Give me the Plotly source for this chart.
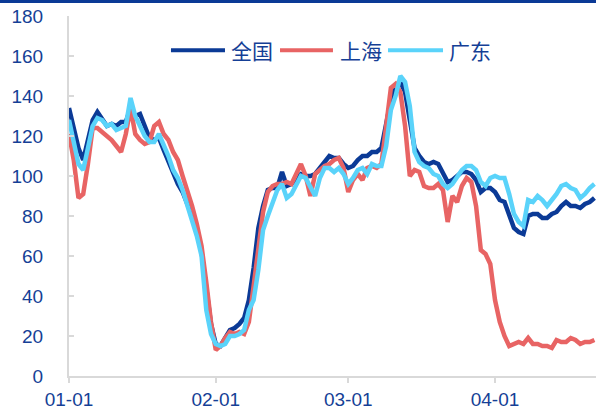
import pandas as pd
import plotly.graph_objects as go

# daily index, 2022-01-01 .. 2022-04-22
dates = pd.date_range("2022-01-01", "2022-04-22", freq="D")

national = [
    134, 124, 114, 108, 118, 128, 132, 128, 125, 126,
    125, 127, 127, 134, 130, 131, 125, 119, 118, 119,
    113, 107, 101, 96, 92, 86, 80, 72, 62, 44,
    26, 16, 15, 19, 23, 24, 26, 29, 38, 54,
    74, 85, 93, 94, 94, 102, 95, 96, 99, 101,
    100, 100, 101, 104, 107, 110, 109, 109, 106, 104,
    105, 108, 110, 110, 112, 112, 114, 127, 138, 145,
    147, 142, 128, 114, 110, 107, 106, 107, 106, 102,
    97, 98, 100, 102, 102, 101, 98, 92, 94, 94,
    92, 88, 87, 81, 74, 72, 71, 80, 81, 81,
    79, 79, 81, 82, 85, 87, 85, 85, 84, 86,
    87, 89,
]
shanghai = [
    121, 108, 89, 91, 106, 124, 124, 122, 120, 118,
    115, 112, 121, 134, 121, 118, 116, 117, 125, 127,
    121, 118, 112, 108, 100, 93, 85, 76, 65, 47,
    27, 13, 15, 19, 22, 21, 22, 21, 27, 45,
    66, 82, 92, 95, 96, 96, 97, 96, 101, 106,
    100, 90, 101, 103, 105, 106, 108, 109, 104, 92,
    98, 101, 98, 104, 105, 104, 106, 125, 144, 146,
    142, 125, 100, 103, 102, 95, 94, 94, 96, 93,
    77, 90, 87, 95, 99, 97, 85, 63, 61, 56,
    38, 27, 20, 15, 16, 17, 16, 19, 16, 16,
    15, 15, 14, 18, 17, 17, 19, 18, 16, 17,
    17, 18,
]
guangdong = [
    128, 116, 106, 103, 114, 125, 129, 128, 125, 126,
    123, 124, 125, 139, 130, 125, 120, 117, 117, 121,
    116, 110, 103, 99, 93, 85, 77, 70, 60, 33,
    21, 16, 15, 16, 20, 20, 21, 23, 33, 38,
    53, 73, 80, 87, 93, 96, 89, 91, 96, 100,
    99, 95, 90, 99, 104, 104, 102, 104, 101, 96,
    99, 103, 104, 101, 106, 105, 105, 115, 133, 140,
    150, 147, 135, 112, 107, 105, 104, 101, 100, 96,
    94, 96, 100, 103, 105, 105, 103, 97, 95, 99,
    100, 99, 99, 91, 81, 77, 75, 88, 87, 90,
    88, 85, 88, 91, 95, 96, 94, 93, 89, 91,
    94, 96,
]

series_names = ["全国", "上海", "广东"]
series_colors = ["#0B3A96", "#E86464", "#5AD3FA"]
tick_dates = ["2022-01-01", "2022-02-01", "2022-03-01", "2022-04-01"]

TEXT = "#153F96"
AXIS = "#D9D9D9"

fig = go.Figure()
for name, vals, color in zip(series_names, [national, shanghai, guangdong], series_colors):
    fig.add_trace(
        go.Scatter(
            x=dates, y=vals, mode="lines", name=name,
            line={"color": color, "width": 4.5},
            showlegend=False,
        )
    )

# hand-drawn legend so the swatches can be as long as in the original
legend_y = 0.905
swatches = [(0.1935, 0.296, 0.3036), (0.4004, 0.5009, 0.5104), (0.6053, 0.7097, 0.7173)]
for (x0, x1, xt), name, color in zip(swatches, series_names, series_colors):
    fig.add_shape(type="line", xref="paper", yref="paper", x0=x0, x1=x1,
                  y0=legend_y, y1=legend_y, line={"color": color, "width": 4})
    fig.add_annotation(xref="paper", yref="paper", x=xt, y=legend_y, text=name,
                       showarrow=False, xanchor="left", yanchor="middle",
                       font={"family": "Noto Sans CJK SC", "size": 21, "color": TEXT})

# dark rule along the top of the page
fig.add_shape(type="line", xref="paper", yref="paper", x0=-0.14, x1=1.01,
              y0=1.0403, y1=1.0403, line={"color": "#0B3A96", "width": 3})

fig.update_layout(
    width=596, height=414,
    margin={"l": 69, "r": 0, "t": 16, "b": 38},
    paper_bgcolor="white", plot_bgcolor="white",
    font={"family": "Liberation Sans, Arial", "size": 19, "color": TEXT},
    xaxis={
        "range": ["2022-01-01", "2022-04-22 08:00"],
        "tickvals": tick_dates, "tickformat": "%m-%d",
        "showgrid": False, "zeroline": False,
        "showline": True, "linecolor": AXIS, "linewidth": 2,
        "ticks": "outside", "ticklen": 5, "tickcolor": AXIS, "tickwidth": 2,
    },
    yaxis={
        "range": [0, 180], "dtick": 20,
        "showgrid": False, "zeroline": False,
        "showline": True, "linecolor": AXIS, "linewidth": 2,
        "ticks": "inside", "ticklen": 5, "tickcolor": AXIS, "tickwidth": 2,
        "ticklabelstandoff": 20,
    },
)

# the page's default body margin would push the whole figure 8px down/right
fig.write_html(
    "out.html",
    config={"displayModeBar": False},
    post_script="document.body.style.margin = '0';",
)
